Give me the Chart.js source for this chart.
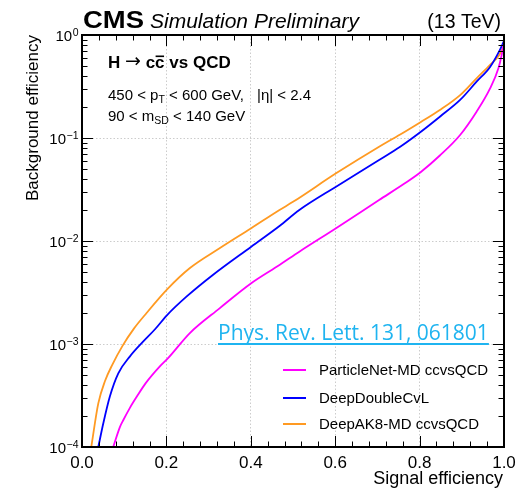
<!DOCTYPE html>
<html>
<head>
<meta charset="utf-8">
<script src="https://cdn.jsdelivr.net/npm/chart.js@4.4.0/dist/chart.umd.min.js"></script>
<style>
body { margin: 0; background: #fff; }
#wrap { width: 524px; height: 489px; position: relative; }
</style>
</head>
<body>
<div id="wrap"><canvas id="rocChart"></canvas></div>
<script>
// ROC curves: signal efficiency vs background efficiency
const seriesNames = ['ParticleNet-MD ccvsQCD', 'DeepDoubleCvL', 'DeepAK8-MD ccvsQCD'];
const seriesColors = ['#ff00ff', '#0000ff', '#ff9a22'];

const sigEffPNet = [0.074, 0.090, 0.098, 0.1135, 0.13, 0.151, 0.185, 0.2045, 0.255, 0.326, 0.401, 0.468, 0.515, 0.602, 0.704, 0.765, 0.803, 0.848, 0.896, 0.935, 0.967, 0.987, 0.9945, 1.0];
const bkgEffPNet = [1.0e-4, 1.57e-4, 1.83e-4, 2.4e-4, 3.09e-4, 4.17e-4, 6.1e-4, 7.33e-4, 1.27e-3, 2.22e-3, 3.89e-3, 5.85e-3, 7.87e-3, 1.33e-2, 2.5e-2, 3.63e-2, 4.68e-2, 6.76e-2, 0.107, 0.18, 0.303, 0.479, 0.64, 0.832];

const sigEffDDCvL = [0.0386, 0.0505, 0.066, 0.086, 0.1137, 0.143, 0.173, 0.2017, 0.2475, 0.310, 0.401, 0.468, 0.515, 0.602, 0.704, 0.754, 0.803, 0.848, 0.896, 0.935, 0.967, 0.99, 1.0];
const bkgEffDDCvL = [1.0e-4, 1.70e-4, 3.09e-4, 5.19e-4, 7.59e-4, 1.035e-3, 1.39e-3, 1.91e-3, 2.88e-3, 4.68e-3, 8.81e-3, 1.40e-2, 2.0e-2, 3.37e-2, 6.11e-2, 8.22e-2, 0.115, 0.161, 0.234, 0.352, 0.49, 0.714, 0.875];

const sigEffAK8 = [0.022, 0.0386, 0.0545, 0.072, 0.096, 0.123, 0.153, 0.2017, 0.255, 0.326, 0.401, 0.468, 0.50, 0.602, 0.704, 0.754, 0.803, 0.848, 0.896, 0.935, 0.967, 0.99, 1.0];
const bkgEffAK8 = [1.0e-4, 2.65e-4, 4.37e-4, 6.31e-4, 9.59e-4, 1.41e-3, 2.0e-3, 3.39e-3, 5.43e-3, 8.49e-3, 1.33e-2, 2.0e-2, 2.4e-2, 4.54e-2, 8.24e-2, 0.108, 0.143, 0.187, 0.261, 0.38, 0.513, 0.65, 0.794];

const xTickVals = [0, 0.2, 0.4, 0.6, 0.8, 1.0];
const xTickLabels = ['0.0', '0.2', '0.4', '0.6', '0.8', '1.0'];
const yTickVals = [1, 1e-1, 1e-2, 1e-3, 1e-4];
const yTickSup = ['0', '\u22121', '\u22122', '\u22123', '\u22124'];

const FONT = "'Liberation Sans', Arial, Helvetica, sans-serif";

function toPoints(xs, ys) {
    return xs.map((x, i) => ({ x: x, y: ys[i] }));
}

function isDecade(v) {
    const l = Math.log10(v);
    return Math.abs(l - Math.round(l)) < 1e-6;
}

// frame, inward ticks, labels and legend drawn in ROOT style
const cmsDecor = {
    id: 'cmsDecor',
    afterDraw(chart) {
        const ctx = chart.ctx;
        const xs = chart.scales.x;
        const ys = chart.scales.y;
        const a = chart.chartArea;
        ctx.save();

        ctx.strokeStyle = '#000';
        ctx.lineWidth = 1;
        ctx.beginPath();
        for (let i = 0; i <= 25; i++) {
            const px = Math.round(xs.getPixelForValue(i * 0.04)) + 0.5;
            const len = i % 5 === 0 ? 11 : 5.5;
            ctx.moveTo(px, a.bottom); ctx.lineTo(px, a.bottom - len);
            ctx.moveTo(px, a.top); ctx.lineTo(px, a.top + len);
        }
        for (let e = -4; e < 0; e++) {
            for (let m = 1; m < 10; m++) {
                const py = Math.round(ys.getPixelForValue(m * Math.pow(10, e))) + 0.5;
                const len = m === 1 ? 11 : 5.5;
                ctx.moveTo(a.left, py); ctx.lineTo(a.left + len, py);
                ctx.moveTo(a.right, py); ctx.lineTo(a.right - len, py);
            }
        }
        ctx.stroke();

        ctx.lineWidth = 2;
        ctx.strokeRect(a.left, a.top, a.right - a.left, a.bottom - a.top);

        ctx.fillStyle = '#000';
        ctx.textBaseline = 'alphabetic';

        // y tick labels 10^n
        yTickVals.forEach((v, i) => {
            const py = ys.getPixelForValue(v);
            ctx.font = `10.5px ${FONT}`;
            const supW = ctx.measureText(yTickSup[i]).width;
            ctx.font = `15px ${FONT}`;
            const baseW = ctx.measureText('10').width;
            const x0 = 78 - supW - baseW;
            ctx.textAlign = 'left';
            ctx.fillText('10', x0, py + 6);
            ctx.font = `10.5px ${FONT}`;
            ctx.fillText(yTickSup[i], x0 + baseW + 0.5, py + 0.5);
        });

        // header
        ctx.textAlign = 'left';
        ctx.font = `bold 24px ${FONT}`;
        const cmsW = ctx.measureText('CMS').width;
        ctx.save();
        ctx.translate(83, 28);
        ctx.scale(61 / cmsW, 1);
        ctx.fillText('CMS', 0, 0);
        ctx.restore();
        ctx.font = `italic 21px ${FONT}`;
        ctx.fillText('Simulation Preliminary', 150, 28);
        ctx.textAlign = 'right';
        ctx.font = `19.5px ${FONT}`;
        ctx.fillText('(13 TeV)', 501, 28);

        // axis titles
        ctx.font = `18px ${FONT}`;
        ctx.fillText('Signal efficiency', 503, 484);
        ctx.save();
        ctx.translate(38, 35);
        ctx.rotate(-Math.PI / 2);
        ctx.font = `17px ${FONT}`;
        ctx.textAlign = 'right';
        ctx.fillText('Background efficiency', 0, 0);
        ctx.restore();

        // process and selection text
        ctx.textAlign = 'left';
        let x = 108;
        ctx.font = `bold 17px ${FONT}`;
        ctx.fillText('H', x, 68);
        x += ctx.measureText('H ').width;
        ctx.font = `19px 'DejaVu Sans', sans-serif`;
        ctx.fillText('\u2192', x, 67);
        x += ctx.measureText('\u2192').width;
        ctx.font = `bold 17px ${FONT}`;
        ctx.fillText(' c', x, 68);
        x += ctx.measureText(' c').width;
        const cw = ctx.measureText('c').width;
        ctx.fillText('c', x, 68);
        ctx.fillRect(x + 0.5, 55.5, cw - 1, 1.6);
        x += cw;
        ctx.fillText(' vs QCD', x, 68);

        x = 108;
        ctx.font = `15px ${FONT}`;
        ctx.fillText('450 < p', x, 100);
        x += ctx.measureText('450 < p').width;
        ctx.font = `10.5px ${FONT}`;
        ctx.fillText('T', x, 103);
        x += ctx.measureText('T').width;
        ctx.font = `15px ${FONT}`;
        ctx.fillText(' < 600 GeV,', x, 100);
        ctx.fillText('|\u03b7| < 2.4', 257, 100);

        x = 108;
        ctx.fillText('90 < m', x, 121);
        x += ctx.measureText('90 < m').width;
        ctx.font = `10.5px ${FONT}`;
        ctx.fillText('SD', x, 124);
        x += ctx.measureText('SD').width;
        ctx.font = `15px ${FONT}`;
        ctx.fillText(' < 140 GeV', x, 121);

        // reference link
        ctx.font = `21px 'Open Sans', 'Noto Sans', sans-serif`;
        ctx.fillStyle = '#1fb4f0';
        ctx.fillText('Phys. Rev. Lett. 131, 061801', 218, 340);
        const linkW = ctx.measureText('Phys. Rev. Lett. 131, 061801').width;
        ctx.fillRect(218, 343, linkW, 2);

        // legend
        const legY = [370, 398, 424];
        chart.data.datasets.forEach((ds, i) => {
            ctx.strokeStyle = ds.borderColor;
            ctx.lineWidth = 2;
            ctx.beginPath();
            ctx.moveTo(283, legY[i]);
            ctx.lineTo(306, legY[i]);
            ctx.stroke();
            ctx.fillStyle = '#000';
            ctx.font = `15px ${FONT}`;
            ctx.textBaseline = 'middle';
            ctx.fillText(ds.label, 319, legY[i] + 1);
            ctx.textBaseline = 'alphabetic';
        });

        ctx.restore();
    }
};

const ctx = document.getElementById('rocChart').getContext('2d');
const rocChart = new Chart(ctx, {
    type: 'line',
    data: {
        datasets: [
            { label: seriesNames[0], data: toPoints(sigEffPNet, bkgEffPNet), borderColor: seriesColors[0] },
            { label: seriesNames[1], data: toPoints(sigEffDDCvL, bkgEffDDCvL), borderColor: seriesColors[1] },
            { label: seriesNames[2], data: toPoints(sigEffAK8, bkgEffAK8), borderColor: seriesColors[2] }
        ]
    },
    options: {
        responsive: true,
        maintainAspectRatio: false,
        animation: false,
        layout: { padding: { top: 35, right: 20, left: 0, bottom: 0 } },
        elements: {
            line: { borderWidth: 1.8, cubicInterpolationMode: 'monotone', fill: false },
            point: { radius: 0 }
        },
        plugins: {
            legend: { display: false },
            tooltip: { enabled: false }
        },
        scales: {
            x: {
                type: 'linear',
                min: 0,
                max: 1,
                afterBuildTicks: s => { s.ticks = xTickVals.map(v => ({ value: v })); },
                afterFit: s => { s.height = 42; },
                ticks: {
                    color: '#000',
                    font: { size: 17, family: FONT },
                    padding: 6,
                    maxRotation: 0,
                    callback: (v, i) => xTickLabels[i]
                },
                grid: {
                    drawTicks: false,
                    color: c => (c.tick && c.tick.value > 0.01 && c.tick.value < 0.99) ? 'rgba(0,0,0,0.2)' : 'transparent'
                },
                border: { display: false, dash: [1.5, 2] }
            },
            y: {
                type: 'logarithmic',
                min: 1e-4,
                max: 1,
                afterFit: s => { s.width = 82; },
                ticks: { display: false },
                grid: {
                    drawTicks: false,
                    color: c => (c.tick && isDecade(c.tick.value) && c.tick.value < 0.5 && c.tick.value > 2e-4) ? 'rgba(0,0,0,0.2)' : 'transparent'
                },
                border: { display: false, dash: [1.5, 2] }
            }
        }
    },
    plugins: [cmsDecor]
});
</script>
</body>
</html>
